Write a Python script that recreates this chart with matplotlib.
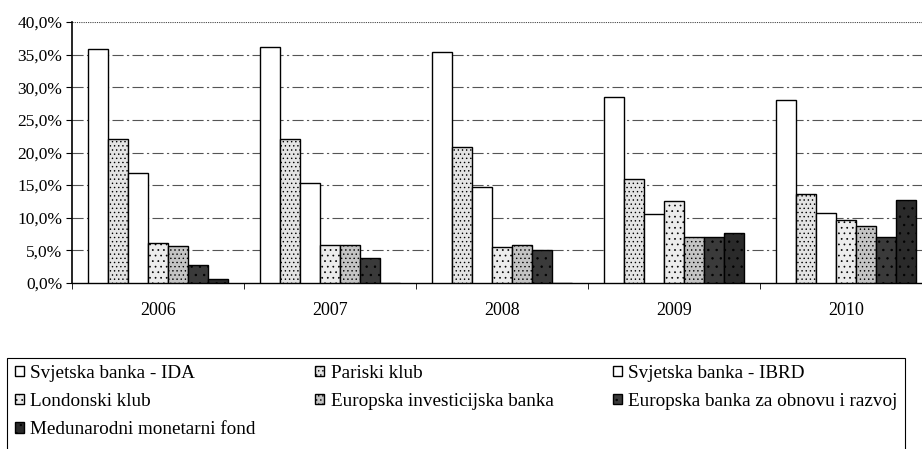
import matplotlib
matplotlib.use("Agg")
import matplotlib.pyplot as plt
import numpy as np
from matplotlib.ticker import FuncFormatter
from matplotlib.patches import Rectangle

years = ["2006", "2007", "2008", "2009", "2010"]
series_names = ["Svjetska banka - IDA", "Pariski klub", "Svjetska banka - IBRD",
                "Londonski klub", "Europska investicijska banka",
                "Europska banka za obnovu i razvoj", "Medunarodni monetarni fond"]
ida = [35.9, 36.2, 35.4, 28.5, 28.0]
pariski = [22.1, 22.1, 20.9, 16.0, 13.6]
ibrd = [16.9, 15.3, 14.7, 10.6, 10.7]
londonski = [6.2, 5.9, 5.45, 12.6, 9.7]
eib = [5.6, 5.9, 5.75, 7.0, 8.7]
ebrd = [2.7, 3.8, 5.1, 7.0, 7.0]
mmf = [0.6, 0.0, 0.0, 7.7, 12.7]
series = [ida, pariski, ibrd, londonski, eib, ebrd, mmf]

faces = ["white", "#e4e4e4", "white", "#ececec", "#c4c4c4", "#3a3a3a", "#2a2a2a"]
hatches = [None, "....", None, "...", "....", "..", ".."]

plt.rcParams['font.family'] = ['Liberation Serif', 'DejaVu Serif']
plt.rcParams['hatch.linewidth'] = 0.5

fig = plt.figure(figsize=(9.22, 4.49), dpi=100)
ax = fig.add_axes([72/922, 1-283/449, 860/922, 261/449])

n = len(series)
bw = 20/172
x = np.arange(len(years))
handles = []
for i, (vals, fc, h) in enumerate(zip(series, faces, hatches)):
    pos = x - (n*bw)/2 + bw/2 + i*bw
    b = ax.bar(pos, vals, width=bw, facecolor=fc, edgecolor="black", linewidth=1.0,
               hatch=h, label=series_names[i], zorder=3)
    handles.append(b)

ax.set_xlim(-0.5, len(years)-0.5)
ax.set_ylim(0, 40)
ax.set_yticks(np.arange(0, 40.1, 5))
ax.yaxis.set_major_formatter(FuncFormatter(lambda v, p: f"{v:.1f}%".replace(".", ",")))
ax.set_xticks(x)
ax.set_xticklabels(years)
ax.set_xticks(np.arange(-0.5, len(years), 1), minor=True)
ax.tick_params(axis='x', which='major', length=0, pad=14, labelsize=13)
ax.tick_params(axis='x', which='minor', length=4, direction='out', color='black')
ax.tick_params(axis='y', length=4, direction='out', labelsize=12.5, pad=3)

for yv in np.arange(5, 36, 5):
    ax.axhline(yv, color="#555555", linewidth=0.8, linestyle=(0, (10, 3, 2, 3)), zorder=1)
ax.axhline(40, color="#444444", linewidth=0.8, linestyle=(0, (1, 1)), zorder=1)

for s in ["top", "right"]:
    ax.spines[s].set_visible(False)
ax.spines["left"].set_linewidth(1.2)
ax.spines["bottom"].set_linewidth(1.0)

order = [0, 3, 6, 1, 4, 2, 5]
leg = fig.legend([handles[i] for i in order], [series_names[i] for i in order],
                 ncol=3, loc="upper left", bbox_to_anchor=(15/922, 1-365/449),
                 frameon=False, fontsize=13.8, handlelength=0.45, handleheight=0.45,
                 handletextpad=0.35, labelspacing=0.58, borderpad=0, borderaxespad=0,
                 columnspacing=3.1)
fig.add_artist(Rectangle((7/922, 1-470/449), 898/922, 112/449, transform=fig.transFigure,
                         facecolor="none", edgecolor="black", linewidth=0.8))

fig.savefig("out.png", dpi=100)
